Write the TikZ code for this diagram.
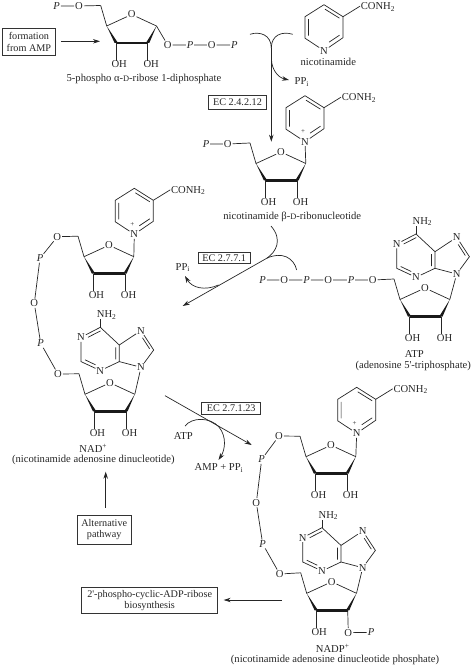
\documentclass[tikz,border=0pt]{standalone}
\usepackage{fontspec}
\setmainfont{Liberation Serif}
\usetikzlibrary{arrows.meta}
\tikzset{
  x=1pt,y=-1pt,
  every node/.style={font=\fontsize{10.6}{11.6}\selectfont,inner sep=0pt,text=black!85},
  bond/.style={line width=.7pt,draw=black!85},
  atom/.style={inner sep=.8pt},
  lbl/.style={align=center},
  framed/.style={draw=black!80,line width=.75pt,align=center,inner sep=0pt,font=\fontsize{10.2}{11.6}\selectfont},
  flow/.style={line width=.7pt,draw=black!85,-{Stealth[length=7pt,width=4.5pt]}},
  plainflow/.style={line width=.7pt,draw=black!85},
}
\newcommand{\smallD}{{\fontsize{8.4}{8}\selectfont D}}
\newcommand{\furanose}[3]{%
  \begin{scope}[shift={(#2,#3)}]
    \coordinate (#1c4) at (0,0);
    \coordinate (#1c5) at (-6,-20.5);
    \coordinate (#1c1) at (49.8,0);
    \coordinate (#1c2) at (41,17);
    \coordinate (#1c3) at (9.5,17);
    \node[atom] (#1o) at (25,-11.5) {O};
    \draw[bond] (#1c5) -- (#1c4) -- (#1o) -- (#1c1);
    \fill[black!90] (#1c4) -- ([xshift=1.8pt]#1c3) -- ([xshift=-1.6pt]#1c3) -- cycle;
    \fill[black!90] (#1c1) -- ([xshift=1.6pt]#1c2) -- ([xshift=-1.8pt]#1c2) -- cycle;
    \draw[line width=2.6pt,black!90] (#1c3) -- (#1c2);
    \node (#1oh3) at (12.5,38.3) {OH};
    \draw[bond] (#1c3) -- (#1c3 |- #1oh3.north);
  \end{scope}}
\newcommand{\secondoh}[1]{%
  \node (#1oh2) at ([xshift=3.5pt,yshift=-21.3pt]#1c2) {OH};
  \draw[bond] (#1c2) -- (#1c2 |- #1oh2.north);}
\newcommand{\pyridine}[3]{%
  \begin{scope}[shift={(#2,#3)}]
    \node[atom] (#1n) at (0,0) {N};
    \coordinate (#1a) at (19,-13);
    \coordinate (#1b) at (19,-34);
    \coordinate (#1t) at (0,-46);
    \coordinate (#1d) at (-19,-34);
    \coordinate (#1e) at (-19,-12.5);
    \coordinate (#1s) at (36,-44.5);
    \draw[bond] (#1n) -- (#1a) -- (#1b) -- (#1t) -- (#1d) -- (#1e) -- (#1n);
    \draw[bond] (#1b) -- (#1s);
    \coordinate (#1i1) at (-15.6,-31.5); \coordinate (#1i2) at (-15.6,-15);
    \coordinate (#1i3) at (1,-41.5); \coordinate (#1i4) at (15.5,-32.5);
    \coordinate (#1i5) at (5,-8.5); \coordinate (#1i6) at (15.5,-15.5);
    \draw[bond] (#1i1) -- (#1i2) (#1i3) -- (#1i4) (#1i5) -- (#1i6);
    \node[anchor=base west] (#1con) at (36.6,-41) {CONH\textsubscript{2}};
  \end{scope}}
\newcommand{\plussign}[1]{\node[font=\fontsize{7}{7}\selectfont] (#1plus) at ([xshift=-2pt,yshift=10pt]#1n.center) {+};}
\newcommand{\adenine}[3]{%
  \begin{scope}[shift={(#2,#3)}]
    \node[atom] (#1n9) at (0,0) {N};
    \coordinate (#1c8) at (12.7,-17.3);
    \node[atom] (#1n7) at (0,-36.7) {N};
    \coordinate (#1c5) at (-21.7,-22.3);
    \coordinate (#1c4) at (-21.7,-5.7);
    \node[atom] (#1n3) at (-40.7,3.3) {N};
    \coordinate (#1c2) at (-60,-5.7);
    \node[atom] (#1n1) at (-60,-30) {N};
    \coordinate (#1c6) at (-40.7,-40);
    \draw[bond] (#1n9) -- (#1c8) -- (#1n7) -- (#1c5) -- (#1c4) -- (#1n9);
    \draw[bond] (#1c4) -- (#1n3) -- (#1c2) -- (#1n1) -- (#1c6) -- (#1c5);
    \coordinate (#1i1) at (-53,-30); \coordinate (#1i2) at (-40.5,-36.4);
    \coordinate (#1i3) at (-56,-7.5); \coordinate (#1i4) at (-45.5,-2.5);
    \coordinate (#1i5) at (-25.3,-8); \coordinate (#1i6) at (-25.3,-20);
    \coordinate (#1i7) at (1.5,-29.5); \coordinate (#1i8) at (8.6,-18.5);
    \draw[bond] (#1i1) -- (#1i2) (#1i3) -- (#1i4) (#1i5) -- (#1i6) (#1i7) -- (#1i8);
    \node[anchor=base west] (#1nh) at (-44.3,-49.7) {NH\textsubscript{2}};
    \draw[bond] (#1c6) -- (#1c6 |- #1nh.south);
  \end{scope}}
\newcommand{\phos}[3]{\node[atom,font=\fontsize{10.6}{11}\itshape\selectfont] (#1) at (#2,#3) {P};}
\newcommand{\oxy}[3]{\node[atom] (#1) at (#2,#3) {O};}
\begin{document}
\begin{tikzpicture}
\useasboundingbox (0,0) rectangle (474,668);
% --- PRPP
\furanose{A}{106.7}{26}
\secondoh{A}
\phos{Ap1}{56.7}{6}\oxy{Ao1}{79}{6}
\oxy{Ao2}{167.7}{45}\phos{Ap2}{190}{45}\oxy{Ao3}{211.7}{45}\phos{Ap3}{234.3}{45}
\draw[bond] (Ap1) -- (Ao1) -- (Ac5);
\draw[bond] (Ac1) -- (Ao2) -- (Ap2) -- (Ao3) -- (Ap3);
\node[lbl] (Aname) at (144,79) {5-phospho α-\smallD-ribose 1-diphosphate};
\node[framed,minimum width=52.3pt,minimum height=27.7pt] (fromamp) at (28.9,41.8) {formation\\from AMP};
\coordinate (Aarrow) at (100,41.3);
\draw[flow] (fromamp.east |- Aarrow) ++(5.5,0) coordinate (Aarrowstart) -- (Aarrow);
% --- nicotinamide
\pyridine{N}{324}{50.7}
\node (Nname) at (328.3,62.3) {nicotinamide};
% --- reaction 1
\coordinate (r1a) at (250,34.3);
\coordinate (r1b) at (292.7,34.3);
\coordinate (r1c) at (271.3,48);
\coordinate (r1d) at (271.3,141.7);
\draw[plainflow] (r1a) .. controls (260,31) and (271.3,35) .. (r1c);
\draw[plainflow] (r1b) .. controls (282,31) and (271.3,35) .. (r1c);
\draw[flow] (r1c) -- (r1d);
\coordinate (r1e) at (271.5,60);
\node[anchor=base west] (ppi1) at (294.5,84.5) {PP\textsubscript{i}};
\coordinate (r1f) at (289,80);
\draw[flow] (r1e) .. controls (272,70) and (278,77.5) .. (r1f);
\node[framed,minimum width=58.4pt,minimum height=13.6pt] (ec1) at (237.5,102.5) {EC 2.4.2.12};
% --- NMN
\furanose{B}{256}{163.5}
\secondoh{B}
\pyridine{Bp}{305}{141.7}
\plussign{Bp}
\draw[bond] (Bc1) -- (Bpn);
\phos{Bp1}{206}{144}\oxy{Bo1}{227.7}{144}
\draw[bond] (Bp1) -- (Bo1) -- (Bc5);
\node[lbl] (Bname) at (292.3,216.7) {nicotinamide β-\smallD-ribonucleotide};
% --- NAD
\furanose{C}{84}{256.7}
\secondoh{C}
\pyridine{Cp}{134.3}{234.3}
\plussign{Cp}
\draw[bond] (Cc1) -- (Cpn);
\furanose{D}{85}{394.3}
\secondoh{D}
\adenine{Da}{141}{367.3}
\draw[bond] (Dc1) -- (Dan9);
\oxy{Co1}{57.3}{236.7}\phos{Cp1}{40}{258.3}\oxy{Co2}{34.3}{303.3}\phos{Cp2}{40.7}{343.3}\oxy{Co3}{58}{374}
\draw[bond] (Cc5) -- (Co1) -- (Cp1) -- (Co2) -- (Cp2) -- (Co3) -- (Dc5);
\node[lbl] (Dname) at (93.3,448) {NAD\textsuperscript{+}};
\node[lbl] (Dname2) at (93.3,460) {(nicotinamide adenosine dinucleotide)};
% --- reaction 2
\coordinate (r2a) at (271,226);
\coordinate (r2b) at (266.7,258.3);
\coordinate (r2c) at (182.7,306);
\coordinate (r2d) at (296.7,270);
\coordinate (r2e) at (218.5,285);
\coordinate (r2f) at (185,276);
\draw[flow] (r2b) -- (r2c);
\draw[plainflow] (r2a) .. controls (283,240) and (276,252) .. (r2b);
\draw[plainflow] (r2d) .. controls (294,258) and (282,251) .. (r2b);
\draw[flow] (r2e) .. controls (205,291) and (192,288) .. (r2f);
\node[framed,minimum width=51.8pt,minimum height=11.5pt] (ec2) at (224.2,257.8) {EC 2.7.7.1};
\node[anchor=base west] (ppi2) at (175.5,270) {PP\textsubscript{i}};
% --- ATP
\furanose{E}{400}{299.5}
\secondoh{E}
\adenine{Ea}{456.7}{274}
\draw[bond] (Ec1) -- (Ean9);
\phos{Ep1}{262.7}{280}\oxy{Eo1}{284.3}{280}\phos{Ep2}{306.7}{280}\oxy{Eo2}{328.3}{280}\phos{Ep3}{351}{280}\oxy{Eo3}{372.7}{280}
\draw[bond] (Ep1) -- (Eo1) -- (Ep2) -- (Eo2) -- (Ep3) -- (Eo3) -- (Ec5);
\node[lbl] (Ename) at (414.3,354.3) {ATP};
\node[lbl] (Ename2) at (413.3,365.7) {(adenosine 5\textquotesingle-triphosphate)};
% --- reaction 3
\coordinate (r3a) at (165,395.7);
\coordinate (r3b) at (251.7,445);
\draw[flow] (r3a) -- (r3b);
\coordinate (r3c) at (185,426);
\coordinate (r3d) at (218.5,460);
\draw[flow] (r3c) .. controls (192,417) and (210,417) .. (219,427) .. controls (227,437) and (225,450) .. (r3d);
\node (atp3) at (183.3,435.7) {ATP};
\node[framed,minimum width=59pt,minimum height=12.3pt] (ec3) at (231.2,408.2) {EC 2.7.1.23};
\node[lbl] (amp) at (219,468.3) {AMP + PP\textsubscript{i}};
% --- NADP
\furanose{F}{306}{456.7}
\secondoh{F}
\pyridine{Fp}{356.7}{433.3}
\plussign{Fp}
\draw[bond] (Fc1) -- (Fpn);
\furanose{G}{306.7}{593.3}
\adenine{Ga}{362.7}{567.7}
\draw[bond] (Gc1) -- (Gan9);
\oxy{Fo1}{279}{436}\phos{Fp1}{261.7}{459.3}\oxy{Fo2}{256.3}{502.7}\phos{Fp2}{262.7}{544}\oxy{Fo3}{279.7}{574}
\draw[bond] (Fc5) -- (Fo1) -- (Fp1) -- (Fo2) -- (Fp2) -- (Fo3) -- (Gc5);
\oxy{Go2}{348.3}{632.7}\phos{Gp2}{371}{632.3}
\draw[bond] (Gc2) -- (Go2) -- (Gp2);
\node[lbl] (Gname) at (332.7,648.3) {NADP\textsuperscript{+}};
\node[lbl] (Gname2) at (335,660) {(nicotinamide adenosine dinucleotide phosphate)};
% --- boxes below
\node[framed,minimum width=53.7pt,minimum height=29.3pt] (alt) at (104.2,529.7) {Alternative\\pathway};
\coordinate (altend) at (105.7,471.7);
\draw[flow] (alt.north -| altend) ++(0,-6.7) coordinate (altstart) -- (altend);
\node[framed,minimum width=136pt,minimum height=26.4pt] (cyc) at (149.7,600.5) {2\textquotesingle-phospho-cyclic-ADP-ribose\\biosynthesis};
\coordinate (cycstart) at (281.7,600);
\draw[flow] (cycstart) -- ([xshift=5.6pt]cyc.east |- cycstart);
\end{tikzpicture}
\end{document}
